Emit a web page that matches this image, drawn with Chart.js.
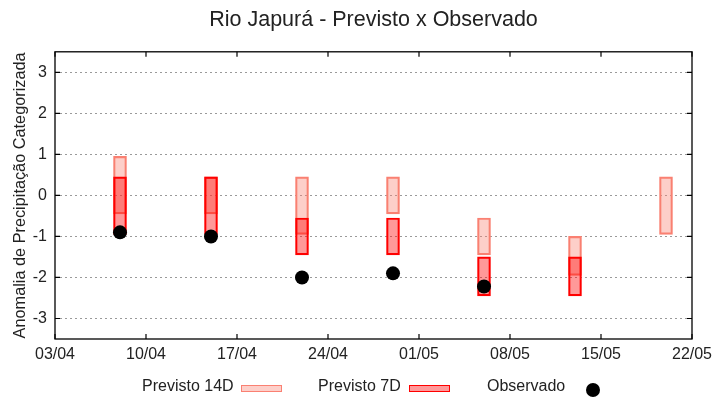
<!DOCTYPE html>
<html>
<head>
<meta charset="utf-8">
<script src="https://cdn.jsdelivr.net/npm/chart.js@4/dist/chart.umd.min.js"></script>
<style>
  body { margin:0; background:#fff; }
  #wrap { position:relative; width:720px; height:400px; font-family:"Liberation Sans", Arial, sans-serif; }
  canvas { position:absolute; left:0; top:0; }
  .leg { position:absolute; top:377px; font-size:16px; color:#222; white-space:nowrap; }
  .sw { position:absolute; height:5px; }
  .dot { position:absolute; width:14px; height:14px; border-radius:50%; background:#000; }
</style>
</head>
<body>
<div id="wrap">
  <canvas id="chart" width="720" height="400"></canvas>
  <div class="leg" style="left:142px">Previsto 14D</div>
  <div class="sw" style="left:241px;top:385px;width:39px;background:#fdcfc9;border:1px solid #fa8072"></div>
  <div class="leg" style="left:318px">Previsto 7D</div>
  <div class="sw" style="left:409px;top:385px;width:39px;background:#ff9999;border:1px solid #ff0000"></div>
  <div class="leg" style="left:487px">Observado</div>
  <div class="dot" style="left:586px;top:383px"></div>
</div>
<script>
// tick labels of the x axis (one per week, starting 03/04)
const tickLabels = ['03/04','10/04','17/04','24/04','01/05','08/05','15/05','22/05'];
// y axis ticks
const yTicks = [-3, -2, -1, 0, 1, 2, 3];
// forecast dates, in days after 03/04
const days = [5, 12, 19, 26, 33, 40, 47];
// forecast ranges (categorized anomaly)
const prev14Lo = [-0.45, -0.45, -0.95, -0.45, -1.45, -1.95, -0.95];
const prev14Hi = [0.95, 0.45, 0.45, 0.45, -0.55, -1.0, 0.45];
const prev7Lo = [-0.95, -0.95, -1.45, -1.45, -2.45, -2.45, null];
const prev7Hi = [0.45, 0.45, -0.55, -0.55, -1.5, -1.5, null];
const observado = [-0.9, -1.0, -2.0, -1.9, -2.22, null, null];

const FONT = '"Liberation Sans", Arial, sans-serif';

function ranges(lo, hi){
    return days.map((d,i)=>lo[i]==null ? null : {x:d, y:[lo[i], hi[i]]}).filter(p=>p);
}
const obsPts = days.map((d,i)=>observado[i]==null ? null : {x:d, y:observado[i]}).filter(p=>p);

// frame + inward tick marks (gnuplot style)
const framePlugin = {
    id:'frame',
    afterDraw(chart){
        const {ctx, chartArea:a, scales:{x, y}} = chart;
        ctx.save();
        ctx.strokeStyle = '#000';
        ctx.lineWidth = 1.3;
        ctx.strokeRect(a.left, a.top, a.right-a.left, a.bottom-a.top);
        ctx.lineWidth = 1.2;
        ctx.beginPath();
        x.ticks.forEach(t=>{
            const px = x.getPixelForValue(t.value);
            ctx.moveTo(px, a.bottom); ctx.lineTo(px, a.bottom-5);
            ctx.moveTo(px, a.top); ctx.lineTo(px, a.top+5);
        });
        y.ticks.forEach(t=>{
            const py = y.getPixelForValue(t.value);
            ctx.moveTo(a.left, py); ctx.lineTo(a.left+5, py);
            ctx.moveTo(a.right, py); ctx.lineTo(a.right-5, py);
        });
        ctx.stroke();
        ctx.restore();
    }
};

new Chart(document.getElementById('chart'), {
    type:'bar',
    data:{
        datasets:[
            {label:'Previsto 14D', data:ranges(prev14Lo, prev14Hi), order:3, grouped:false,
             backgroundColor:'rgba(250,128,114,0.38)', borderColor:'#fa8072', borderWidth:1.5,
             borderSkipped:false, barThickness:13},
            {label:'Previsto 7D', data:ranges(prev7Lo, prev7Hi), order:2, grouped:false,
             backgroundColor:'rgba(255,0,0,0.4)', borderColor:'#ff0000', borderWidth:1.5,
             borderSkipped:false, barThickness:13},
            {type:'scatter', label:'Observado', data:obsPts, order:1,
             pointRadius:7, pointBackgroundColor:'#000', pointBorderColor:'#000', pointBorderWidth:0}
        ]
    },
    options:{
        responsive:false,
        animation:false,
        layout:{padding:{left:0, right:28, top:0, bottom:0}},
        plugins:{
            legend:{display:false},
            tooltip:{enabled:false},
            title:{display:true, fullSize:false, text:'Rio Japurá - Previsto x Observado', color:'#222',
                   font:{family:FONT, size:21.5, weight:'normal'}, padding:{top:7, bottom:19}}
        },
        scales:{
            x:{type:'linear', min:0, max:49, offset:false,
               grid:{display:false, drawTicks:false, offset:false},
               border:{display:false},
               ticks:{stepSize:7, padding:6, color:'#222', font:{family:FONT, size:16},
                      maxRotation:0, callback:v=>tickLabels[Math.round(v/7)]},
               afterFit:s=>{ s.height = 61; }},
            y:{min:-3.5, max:3.5,
               grid:{color:'#9a9a9a', lineWidth:1, drawTicks:false},
               border:{display:false, dash:[2,3]},
               ticks:{padding:8, color:'#222', font:{family:FONT, size:16}},
               afterBuildTicks:s=>{ s.ticks = yTicks.map(v=>({value:v})); },
               title:{display:true, text:'Anomalia de Precipitação Categorizada', color:'#222',
                      font:{family:FONT, size:16.3}, padding:{top:11, bottom:0}},
               afterFit:s=>{ s.width = 55; }}
        }
    },
    plugins:[framePlugin]
});
</script>
</body>
</html>
